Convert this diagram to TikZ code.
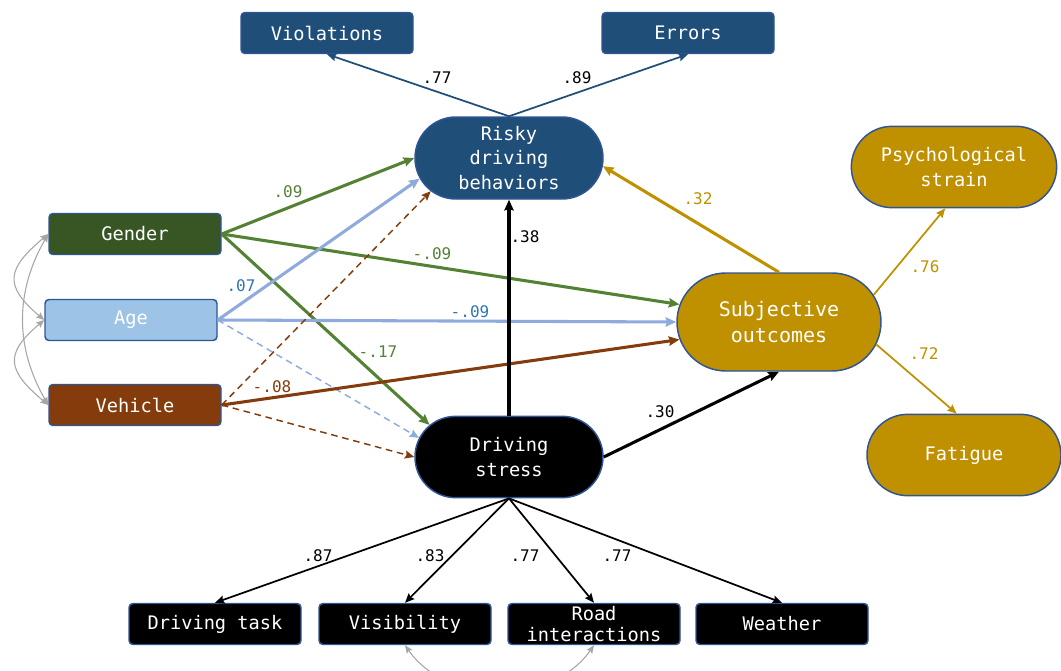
\documentclass[tikz,border=0pt]{standalone}
\usepackage{fontspec}
\setmonofont{DejaVu Sans Mono}
\usetikzlibrary{arrows.meta}
\usetikzlibrary{shapes.misc}
\usetikzlibrary{calc}
\usepackage{xcolor}

\definecolor{navy}{HTML}{1F4E79}
\definecolor{rim}{HTML}{2F5597}
\definecolor{gendfill}{HTML}{375623}
\definecolor{gendline}{HTML}{548235}
\definecolor{agefill}{HTML}{9DC3E6}
\definecolor{ageline}{HTML}{8FAADC}
\definecolor{agetext}{HTML}{2E75B6}
\definecolor{vehfill}{HTML}{843C0C}
\definecolor{gold}{HTML}{BF9000}
\definecolor{corr}{HTML}{A6A6A6}

\tikzset{
  ind/.style={draw=rim, line width=1.1pt, rounded corners=3pt, inner sep=0pt,
    minimum width=129pt, minimum height=30.75pt, text=white, align=center,
    font=\ttfamily\fontsize{14}{16.5}\selectfont},
  lat/.style={rounded rectangle, draw=rim, line width=1.1pt, inner sep=0pt,
    text=white, align=center, font=\ttfamily\fontsize{14}{18.5}\selectfont},
  lbl/.style={font=\ttfamily\fontsize{12}{14}\selectfont},
  strong/.style={line width=2.3pt, -{Stealth[length=8pt,width=7pt,inset=1pt]}},
  weak/.style={line width=1.3pt, -{Stealth[length=7pt,width=6pt,inset=1pt]}},
  dashline/.style={line width=1.1pt, dash pattern=on 5pt off 3.5pt, -{Stealth[length=7pt,width=6pt,inset=1pt]}},
  covar/.style={line width=0.8pt, draw=corr, {Stealth[length=6pt,width=5pt,inset=1pt]}-{Stealth[length=6pt,width=5pt,inset=1pt]}}
}

\begin{document}
\begin{tikzpicture}[x=0.75pt,y=-0.75pt]
      \path[use as bounding box, clip] (0,0) rectangle (1061,671);

      % Latent variables
      \node[lat, fill=navy, minimum width=141pt, minimum height=61.5pt] (risky) at (509,158) {Risky\\driving\\behaviors};
      \node[lat, fill=black, minimum width=141pt, minimum height=61pt] (stress) at (509,457) {Driving\\stress};
      \node[lat, fill=gold, minimum width=153pt, minimum height=73.5pt, font=\ttfamily\fontsize{15}{19}\selectfont] (subj) at (779,322) {Subjective\\outcomes};
      \node[lat, fill=gold, minimum width=154pt, minimum height=61pt] (psych) at (954,167) {Psychological\\strain};
      \node[lat, fill=gold, minimum width=145.5pt, minimum height=61pt] (fatigue) at (964,455) {Fatigue};

      % Indicators
      \node[ind, fill=navy] (viol) at (327,33) {Violations};
      \node[ind, fill=navy] (err) at (688,33) {Errors};
      \node[ind, fill=black] (task) at (215,624) {Driving task};
      \node[ind, fill=black] (vis) at (405,624) {Visibility};
      \node[ind, fill=black, font=\ttfamily\fontsize{14}{16}\selectfont] (road) at (594,624) {Road\\interactions};
      \node[ind, fill=black] (weather) at (782,624) {Weather};

      % Covariates
      \node[ind, fill=gendfill] (gender) at (135,234) {Gender};
      \node[ind, fill=agefill] (age) at (131,320) {Age};
      \node[ind, fill=vehfill] (vehicle) at (135,405) {Vehicle};

      % Loadings
      \draw[weak, navy] (risky.north) -- (viol.south);
      \draw[weak, navy] (risky.north) -- (err.south);
      \foreach \ob in {task,vis,road,weather}
        \draw[weak, black] (stress.south) -- (\ob.north);
      \draw[weak, gold] (subj.16) -- (psych.258);
      \draw[weak, gold] (subj.-13) -- (fatigue.100);

      % Covariate paths
      \draw[strong, gendline] (gender.east) -- (risky.west);
      \draw[strong, gendline] (gender.east) -- (subj.170);
      \draw[strong, gendline] (gender.east) -- (stress.158);
      \draw[strong, ageline] (age.east) -- (risky.193);
      \draw[strong, ageline] (age.east) -- (subj.west);
      \draw[dashline, ageline] (age.east) -- (stress.168);
      \draw[dashline, vehfill] (vehicle.east) -- (risky.203);
      \draw[strong, vehfill] (vehicle.east) -- (subj.190);
      \draw[dashline, vehfill] (vehicle.east) -- (stress.west);

      % Structural paths
      \draw[strong, black] (stress.north) -- (risky.south);
      \draw[strong, black] (stress.east) -- (subj.south);
      \draw[strong, gold] (subj.north) -- (risky.355);

      % Correlations
      \draw[covar] (gender.west) to[out=220, in=140, looseness=1.6] (age.west);
      \draw[covar] (age.west) to[out=220, in=140, looseness=1.6] (vehicle.west);
      \draw[covar] (gender.west) to[out=240, in=120] (vehicle.west);
      \draw[covar] (vis.south) to[out=-55, in=-125] (road.south);

      % Coefficients
      \node[lbl] (c1) at (437,78) {.77};
      \node[lbl] (c2) at (577,78) {.89};
      \node[lbl, text=gendline] (c3) at (288,192) {.09};
      \node[lbl, text=agetext] (c4) at (241,286) {.07};
      \node[lbl, text=gendline] (c5) at (432,254) {-.09};
      \node[lbl, text=agetext] (c6) at (470,312) {-.09};
      \node[lbl, text=vehfill] (c7) at (272,387) {-.08};
      \node[lbl, text=gendline] (c8) at (378,352) {-.17};
      \node[lbl] (c9) at (525,237) {.38};
      \node[lbl] (c10) at (660,412) {.30};
      \node[lbl, text=gold] (c11) at (698,199) {.32};
      \node[lbl, text=gold] (c12) at (925,267) {.76};
      \node[lbl, text=gold] (c13) at (924,354) {.72};
      \node[lbl] (c14) at (318,556) {.87};
      \node[lbl] (c15) at (430,556) {.83};
      \node[lbl] (c16) at (525,556) {.77};
      \node[lbl] (c17) at (617,556) {.77};
\end{tikzpicture}
\end{document}
